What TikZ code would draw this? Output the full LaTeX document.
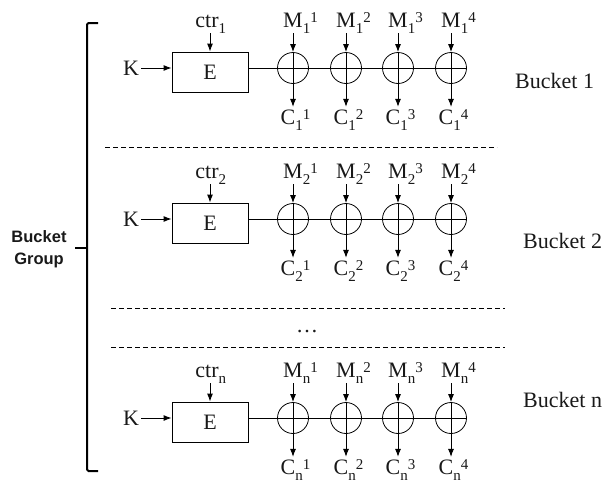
\documentclass[tikz,border=0pt]{standalone}
\usepackage{fontspec}
\setmainfont{Liberation Serif}
\newfontfamily\grpfont{Liberation Sans}
\usetikzlibrary{arrows.meta}

% index sizes and sub/superscript placement (sub first, then sup)
\newcommand\idxsz{\fontsize{15}{15}\selectfont}
\newcommand\idx[3]{#1\rlap{\raisebox{-6pt}{\idxsz #2}\raisebox{5pt}{\idxsz #3}}}
\newcommand\ctrlbl[1]{ctr\rlap{\raisebox{-6pt}{\idxsz #1}}}

\tikzset{
  txt/.style={font=\fontsize{22}{24}\selectfont, text=black!90, inner sep=0pt},
  enc/.style={draw, line width=0.9pt, minimum width=76pt, minimum height=40pt,
              inner sep=0pt, font=\fontsize{22}{24}\selectfont, text=black!90},
  xorc/.style={draw, circle, minimum size=31pt, inner sep=0pt, line width=0.8pt},
  arr/.style={-{Latex[length=8pt,width=6pt]}, line width=0.9pt},
  plain/.style={line width=0.8pt},
  sep/.style={dash pattern=on 5pt off 3pt, line width=0.9pt},
  brk/.style={line width=2pt, rounded corners=1.5pt},
  grp/.style={font=\grpfont\bfseries\fontsize{16.5}{22}\selectfont, align=center,
              text=black!90, inner sep=0pt},
}

\begin{document}
\begin{tikzpicture}[x=1pt, y=-1pt]
  \useasboundingbox (0,0) rectangle (609,488);

  % one row per bucket: index, y of the data line, bucket label position
  \foreach \r/\yy/\bx/\by in {1/68/515/81, 2/219/523/241, n/418/523/400}{
    \node[enc] (E\r) at (210, \yy+4) {E};
    \node[txt, anchor=base] (K\r) at (131, \yy+7.5) {K};
    \draw[arr, shorten <=2pt] (K\r.east |- 0,\yy) -- (E\r.west |- 0,\yy);
    \node[txt, anchor=base] (ctr\r) at (207, \yy-41) {\ctrlbl{\r}};
    \draw[arr] (ctr\r.south -| E\r.north) -- (E\r.north);

    \foreach \i/\xx in {1/293, 2/346, 3/398, 4/451}{
      \node[xorc] (X\r\i) at (\xx, \yy) {};
      \draw[plain] (X\r\i.north) -- (X\r\i.south);
      \node[txt, anchor=base] (M\r\i) at (\xx, \yy-41) {\idx{M}{\r}{\i}};
      \node[txt, anchor=base] (C\r\i) at (\xx-5, \yy+56) {\idx{C}{\r}{\i}};
      \draw[arr] (M\r\i.south) -- (X\r\i.north);
      \draw[arr, shorten >=2pt] (X\r\i.south) -- (X\r\i.south |- C\r\i.north);
    }
    \draw[plain] (E\r.east |- X\r1.center) -- (X\r4.east);

    \node[txt, anchor=west] (B\r) at (\bx, \by) {Bucket \r};
  }

  % separators between buckets
  \draw[sep] (105,147) -- (497,147);
  \draw[sep] (111,308) -- (505,308);
  \draw[sep] (111,347) -- (505,347);
  \node[txt] (dots) at (307,332) {\dots};

  % bracket holding the whole group
  \draw[brk] (98,23) -- (87,23) -- (87,471) -- (98,471);
  \draw[brk] (87,248) -- (75,248);
  \node[grp] (grp) at (39,249) {Bucket\\Group};
\end{tikzpicture}
\end{document}
